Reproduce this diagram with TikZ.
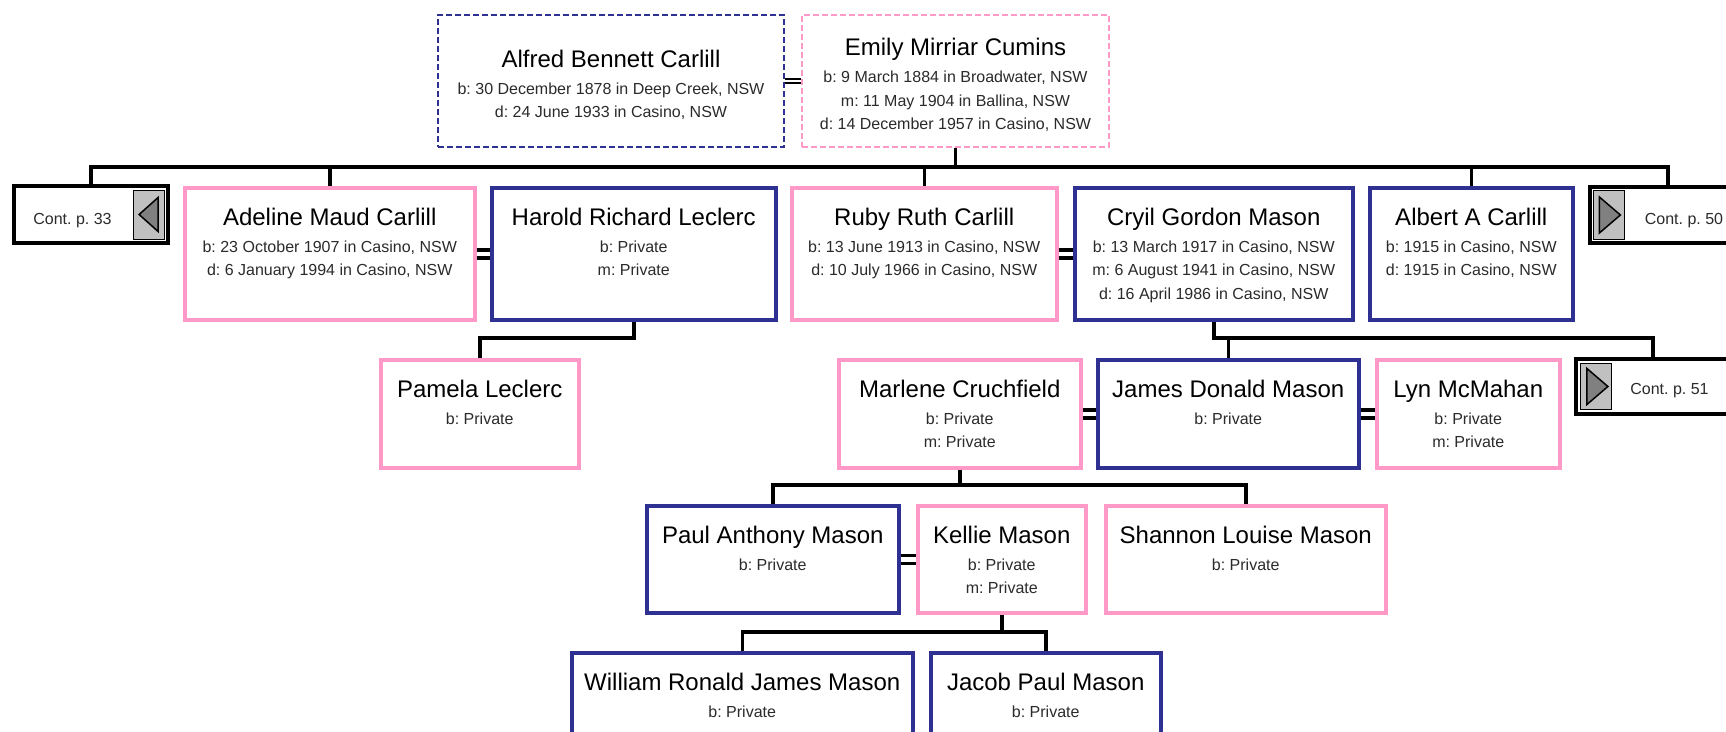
\documentclass[tikz,border=0pt]{standalone}
\usepackage{fontspec}
\setmainfont{Liberation Sans}
\frenchspacing
\newcommand\namefont{\fontsize{24}{27}\selectfont\color{black}}
\newcommand\datafont{\fontsize{16}{23.5}\selectfont}
\definecolor{maleblue}{HTML}{2E3192}
\definecolor{femalepink}{HTML}{FF99C8}
\definecolor{flaggrey}{HTML}{C0C0C0}
\definecolor{tipgrey}{HTML}{808080}
\definecolor{datagrey}{HTML}{2B2B2B}

\begin{document}
\begin{tikzpicture}[x=1pt,y=-1pt,
  male/.style={draw=maleblue,fill=white,line width=3.5pt,anchor=north west},
  female/.style={draw=femalepink,fill=white,line width=3.5pt,anchor=north west},
  spouse/.style={line width=2pt,dash pattern=on 6pt off 3pt},
  info/.style={anchor=north,align=center,font=\datafont,text=datagrey},
  contbox/.style={draw=black,fill=white,line width=4pt,anchor=north west},
  flag/.style={draw=black,fill=flaggrey,line width=0.8pt,minimum width=31,minimum height=49},
  tip/.style={draw=black,fill=tipgrey,line width=1.5pt,line join=miter},
  conttext/.style={anchor=base,font=\datafont,text=datagrey},
  conn/.style={line width=3.5pt,black},
  wed/.style={line width=3.5pt,black}]
  \tikzstyle{every node}+=[inner sep=0pt]
  \useasboundingbox (0,0) rectangle (1726,731);
  \clip (0,0) rectangle (1726,731);

  \coordinate (bus1) at (0,167);
  \coordinate (bus2) at (0,338);
  \coordinate (bus4) at (0,485);
  \coordinate (bus5) at (0,632);

  % parents
  \node[male,spouse,minimum width=346,minimum height=132] (alfred) at (437,14) {};
  \node[female,spouse,minimum width=307,minimum height=132] (emily) at (801,14) {};
  \node[info,anchor=center] at ([yshift=-4pt]alfred.center) {{\namefont Alfred Bennett Carlill}\\[3.5pt]
    b: 30 December 1878 in Deep Creek, NSW\\ d: 24 June 1933 in Casino, NSW};
  \node[info,anchor=center] at ([yshift=-4pt]emily.center) {{\namefont Emily Mirriar Cumins}\\[3.5pt]
    b: 9 March 1884 in Broadwater, NSW\\ m: 11 May 1904 in Ballina, NSW\\ d: 14 December 1957 in Casino, NSW};
  \draw[line width=2pt] ([yshift=2pt]alfred.east) -- ([yshift=2pt]emily.west);
  \draw[line width=2pt] ([yshift=-2pt]alfred.east) -- ([yshift=-2pt]emily.west);

  % children
  \node[contbox,minimum width=154,minimum height=57] (cont33) at (12,184) {};
  \node[flag,anchor=east] (flag33) at ([xshift=-5pt]cont33.east) {};
  \draw[tip] (flag33.center) ++(-10,0) -- ++(19,-17) -- ++(0,34) -- cycle;
  \node[conttext] at ([xshift=-18.5pt,yshift=-9.5pt]cont33.center) {Cont. p. 33};

  \node[female,minimum width=290,minimum height=132] (adeline) at (183,186) {};
  \node[male,minimum width=284,minimum height=132] (harold) at (490,186) {};
  \node[female,minimum width=265,minimum height=132] (ruby) at (790,186) {};
  \node[male,minimum width=278,minimum height=132] (cryil) at (1073,186) {};
  \node[male,minimum width=203,minimum height=132] (albert) at (1368,186) {};

  \node[contbox,minimum width=156,minimum height=56] (cont50) at (1588,185) {};
  \node[flag,anchor=west] (flag50) at ([xshift=5pt]cont50.west) {};
  \draw[tip] (flag50.center) ++(11.5,0) -- ++(-21,-18) -- ++(0,36) -- cycle;
  \node[conttext] at ([xshift=16pt,yshift=-9pt]cont50.center) {Cont. p. 50};

  \node[info] at ([yshift=-21.5pt]adeline.north) {{\namefont Adeline Maud Carlill}\\[3.5pt]
    b: 23 October 1907 in Casino, NSW\\ d: 6 January 1994 in Casino, NSW};
  \node[info] at ([yshift=-21.5pt]harold.north) {{\namefont Harold Richard Leclerc}\\[3.5pt]
    b: Private\\ m: Private};
  \node[info] at ([yshift=-21.5pt]ruby.north) {{\namefont Ruby Ruth Carlill}\\[3.5pt]
    b: 13 June 1913 in Casino, NSW\\ d: 10 July 1966 in Casino, NSW};
  \node[info] at ([yshift=-21.5pt]cryil.north) {{\namefont Cryil Gordon Mason}\\[3.5pt]
    b: 13 March 1917 in Casino, NSW\\ m: 6 August 1941 in Casino, NSW\\ d: 16 April 1986 in Casino, NSW};
  \node[info] at ([yshift=-21.5pt]albert.north) {{\namefont Albert A Carlill}\\[3.5pt]
    b: 1915 in Casino, NSW\\ d: 1915 in Casino, NSW};

  \draw[conn] (emily.south) -- (emily.south |- bus1);
  \draw[conn] (cont33.north) |- (bus1 -| cont50.north) -- (cont50.north);
  \draw[conn] (adeline.north) -- (adeline.north |- bus1);
  \draw[conn] (ruby.north) -- (ruby.north |- bus1);
  \draw[conn] (albert.north) -- (albert.north |- bus1);
  \draw[wed] ([yshift=4pt]adeline.east) -- ([yshift=4pt]harold.west);
  \draw[wed] ([yshift=-4pt]adeline.east) -- ([yshift=-4pt]harold.west);
  \draw[wed] ([yshift=4pt]ruby.east) -- ([yshift=4pt]cryil.west);
  \draw[wed] ([yshift=-4pt]ruby.east) -- ([yshift=-4pt]cryil.west);

  % grandchildren
  \node[female,minimum width=198,minimum height=108] (pamela) at (379,358) {};
  \node[female,minimum width=242,minimum height=108] (marlene) at (837,358) {};
  \node[male,minimum width=261,minimum height=108] (james) at (1096,358) {};
  \node[female,minimum width=183,minimum height=108] (lyn) at (1375,358) {};

  \node[contbox,minimum width=154,minimum height=55] (cont51) at (1574,357) {};
  \node[flag,anchor=west,minimum height=46] (flag51) at ([xshift=6pt]cont51.west) {};
  \draw[tip] (flag51.center) ++(12,0) -- ++(-21,-18) -- ++(0,36) -- cycle;
  \node[conttext] at ([xshift=16.5pt,yshift=-7.5pt]cont51.center) {Cont. p. 51};

  \node[info] at ([yshift=-21.5pt]pamela.north) {{\namefont Pamela Leclerc}\\[3.5pt] b: Private};
  \node[info] at ([yshift=-21.5pt]marlene.north) {{\namefont Marlene Cruchfield}\\[3.5pt] b: Private\\ m: Private};
  \node[info] at ([yshift=-21.5pt]james.north) {{\namefont James Donald Mason}\\[3.5pt] b: Private};
  \node[info] at ([yshift=-21.5pt]lyn.north) {{\namefont Lyn McMahan}\\[3.5pt] b: Private\\ m: Private};

  \draw[conn] (harold.south) |- (bus2 -| pamela.north) -- (pamela.north);
  \draw[conn] (cryil.south) |- (bus2 -| cont51.north) -- (cont51.north);
  \draw[conn] (james.north) -- (james.north |- bus2);
  \draw[wed] ([yshift=4pt]marlene.east) -- ([yshift=4pt]james.west);
  \draw[wed] ([yshift=-4pt]marlene.east) -- ([yshift=-4pt]james.west);
  \draw[wed] ([yshift=4pt]james.east) -- ([yshift=4pt]lyn.west);
  \draw[wed] ([yshift=-4pt]james.east) -- ([yshift=-4pt]lyn.west);

  % great-grandchildren
  \node[male,minimum width=252,minimum height=107] (paul) at (645,504) {};
  \node[female,minimum width=168,minimum height=107] (kellie) at (916,504) {};
  \node[female,minimum width=280,minimum height=107] (shannon) at (1104,504) {};
  \node[info] at ([yshift=-21.5pt]paul.north) {{\namefont Paul Anthony Mason}\\[3.5pt] b: Private};
  \node[info] at ([yshift=-21.5pt]kellie.north) {{\namefont Kellie Mason}\\[3.5pt] b: Private\\ m: Private};
  \node[info] at ([yshift=-21.5pt]shannon.north) {{\namefont Shannon Louise Mason}\\[3.5pt] b: Private};

  \draw[conn] (marlene.south) -- (marlene.south |- bus4);
  \draw[conn] (paul.north) |- (bus4 -| shannon.north) -- (shannon.north);
  \draw[wed] ([yshift=4pt]paul.east) -- ([yshift=4pt]kellie.west);
  \draw[wed] ([yshift=-4pt]paul.east) -- ([yshift=-4pt]kellie.west);

  \node[male,minimum width=341,minimum height=120] (william) at (570,651) {};
  \node[male,minimum width=230,minimum height=120] (jacob) at (929,651) {};
  \node[info] at ([yshift=-21.5pt]william.north) {{\namefont William Ronald James Mason}\\[3.5pt] b: Private};
  \node[info] at ([yshift=-21.5pt]jacob.north) {{\namefont Jacob Paul Mason}\\[3.5pt] b: Private};

  \draw[conn] (kellie.south) -- (kellie.south |- bus5);
  \draw[conn] (william.north) |- (bus5 -| jacob.north) -- (jacob.north);
\end{tikzpicture}
\end{document}
